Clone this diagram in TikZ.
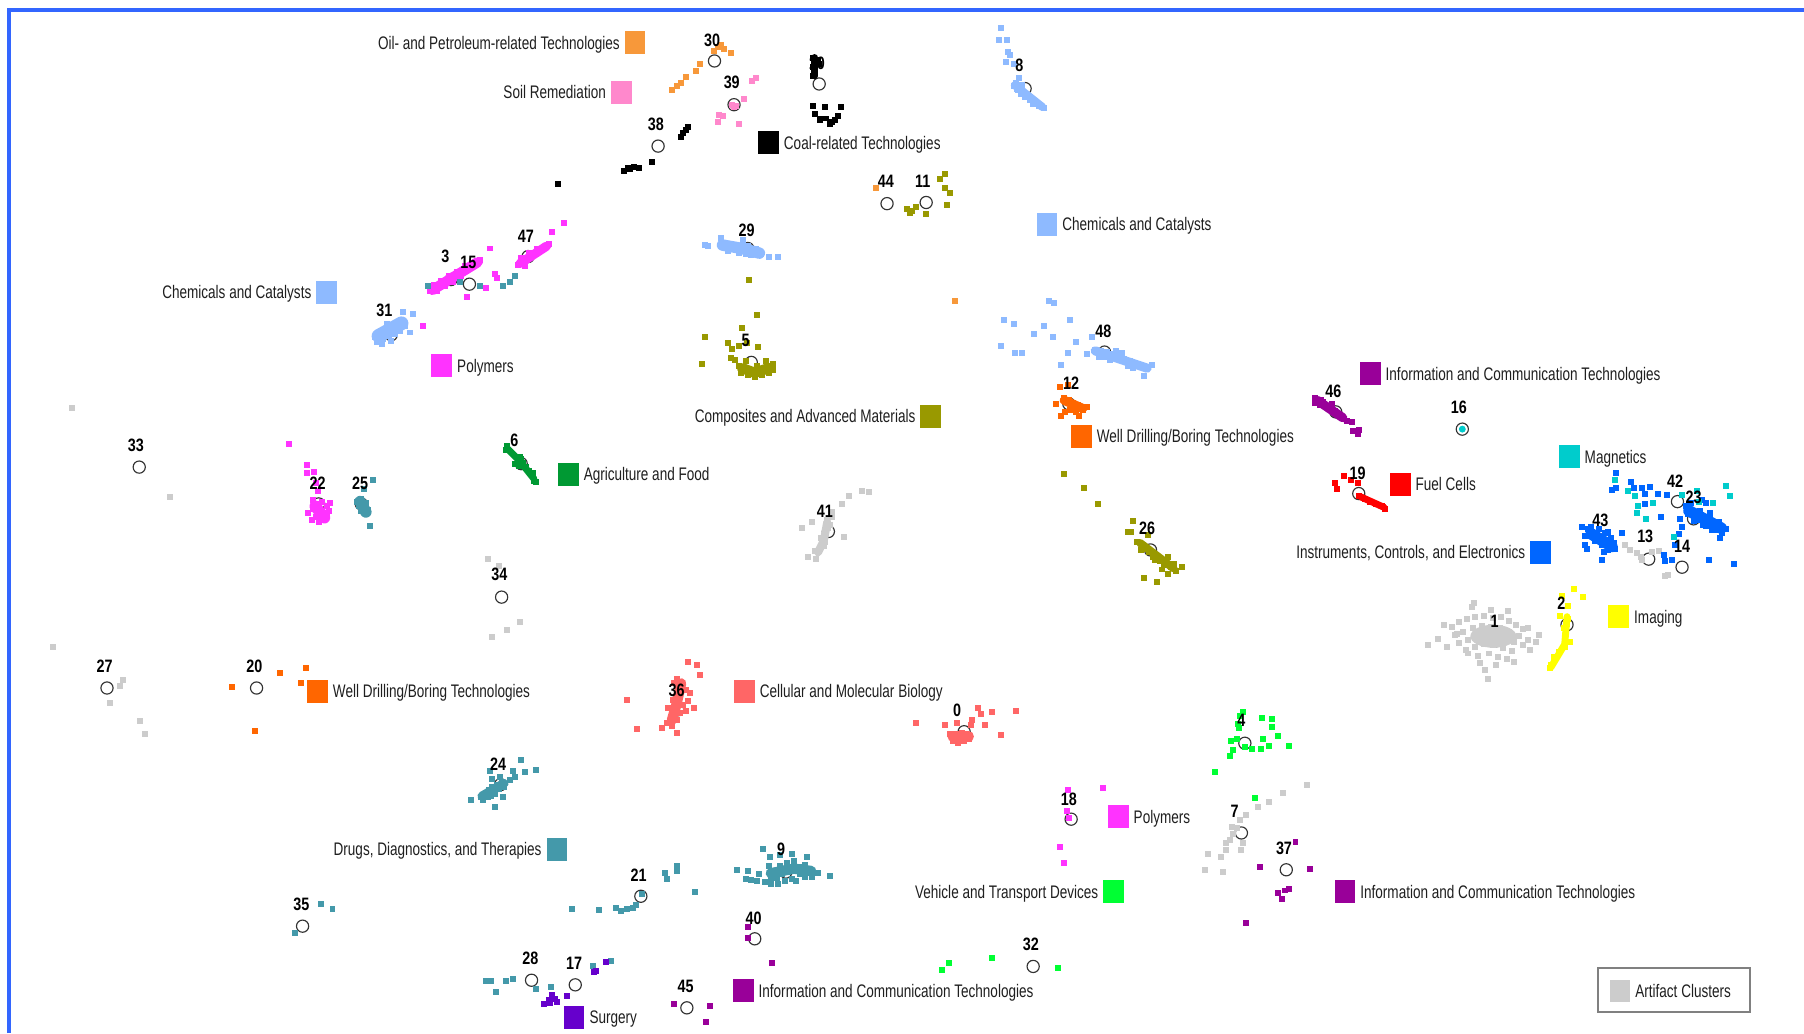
\documentclass[tikz,border=0pt]{standalone}
\usepackage{fontspec}
\newfontfamily\labfont{Liberation Sans}[FakeStretch=0.745]
\newfontfamily\numfont{Liberation Sans}[FakeStretch=0.8]

\definecolor{frame}{RGB}{51,102,255}
\definecolor{oilc}{RGB}{247,152,58}
\definecolor{soilc}{RGB}{255,136,204}
\definecolor{coalc}{RGB}{0,0,0}
\definecolor{chemc}{RGB}{142,186,255}
\definecolor{polyc}{RGB}{255,51,255}
\definecolor{compc}{RGB}{153,153,0}
\definecolor{ictc}{RGB}{153,0,153}
\definecolor{wellc}{RGB}{255,102,0}
\definecolor{magc}{RGB}{0,204,204}
\definecolor{fuelc}{RGB}{255,0,0}
\definecolor{agric}{RGB}{0,153,51}
\definecolor{instc}{RGB}{0,102,255}
\definecolor{imgc}{RGB}{255,255,0}
\definecolor{cellc}{RGB}{255,102,102}
\definecolor{drugc}{RGB}{68,153,170}
\definecolor{vehc}{RGB}{0,255,51}
\definecolor{surgc}{RGB}{102,0,204}
\definecolor{artc}{RGB}{204,204,204}

\tikzset{
  lab/.style={font=\labfont\fontsize{7.9}{9}\selectfont, text=black!88,
    inner sep=0pt, text height=7pt, text depth=1.34pt},
  num/.style={font=\numfont\bfseries\fontsize{7.8}{9}\selectfont, text=black, inner sep=0pt},
  clus/.style={circle, draw=black!80, line width=0.5pt, inner sep=0pt, minimum size=5.3pt},
}

% scatter points: small filled squares
\newcommand\pts[2]{\foreach \x/\y in {#2}{\fill[#1] (\x-2.6,\y-2.6) rectangle (\x+2.6,\y+2.6);}}
% dense core of a cluster: colour, thickness, path
\newcommand\blob[3]{\draw[#1, line width=#2, line cap=round, line join=round] #3;}
% legend keys: swatch top-left corner, text on the right / on the left
\newcommand\keyR[5]{\fill[#2] (#3,#4) rectangle ++(18,20);
  \node[lab, anchor=west] (#1) at (#3+22,#4+10) {#5};}
\newcommand\keyL[5]{\fill[#2] (#3,#4) rectangle ++(18,20);
  \node[lab, anchor=east] (#1) at (#3-4,#4+10) {#5};}

\begin{document}
\begin{tikzpicture}[x=0.5pt,y=-0.5pt]
\useasboundingbox (0,0) rectangle (1568,898);
\fill[white] (0,0) rectangle (1568,898);

% frame
\draw[frame, line width=1.8pt] (8,898) -- (8,9) -- (1568,9);

% cluster centres
\foreach \i/\x/\y in {30/621/53, 39/638/91, 10/712/73, 38/572/127, 8/891/77,
  44/771/177, 11/805/176, 29/650/216, 47/459/223, 3/392/243, 15/408/247,
  31/340/291, 5/653/315, 48/960/306, 12/929/351, 46/1161/358, 16/1271/373,
  33/121/406, 6/453/403, 22/277/438, 25/314/438, 19/1181/429, 42/1458/436,
  23/1472/451, 41/720/462, 26/1000/478, 43/1394/469, 13/1433/486, 14/1462/493,
  34/436/519, 2/1362/543, 1/1300/557, 27/93/598, 20/223/598, 36/589/617,
  0/838/636, 4/1082/646, 24/435/682, 18/931/712, 7/1079/724, 37/1118/756,
  9/683/758, 21/557/779, 35/263/805, 40/656/816, 32/898/840, 28/462/852,
  17/500/856, 45/597/876}
  {\node[clus] (c\i) at (\x,\y) {};}

% Oil- and petroleum-related technologies
\pts{oilc}{627/39,635/46,621/44,624/41,629/43,608/56,605/62,596/67,592/72,588/75,584/78,761/163,830/262}
% soil remediation
\pts{soilc}{654/70,657/68,647/86,625/100,628/101,624/106,642/108,636/91,640/92,638/93}
% coal-related technologies
\blob{coalc}{3pt}{(708,50) -- (708,66)}
\pts{coalc}{707/50,708/54,707/58,708/62,707/66,711/52,712/56,707/92,717/93,731/93,708/99,713/104,718/103,723/106,728/101,721/108,714/103,726/104,598/110,596/113,594/116,592/119,567/141,542/149,546/146,551/145,555/146,548/147,485/160}
% chemicals and catalysts
\blob{chemc}{3.5pt}{(882,74) -- (906,93)}
\pts{chemc}{870/24,868/35,875/35,876/45,878/48,874/54,881/56,886/68,881/75,885/78,888/80,891/84,895/87,898/90,903/92,907/94,883/72,888/74,884/77,887/82}
\blob{chemc}{5pt}{(628,213) -- (645,216) -- (660,220)}
\pts{chemc}{613/213,615/214,627/207,646/209,645/214,630/214,635/216,640/217,645/218,650/219,655/219,660/220,638/213,650/214,657/216,633/218,642/220,648/221,653/222,668/223,676/223}
\blob{chemc}{6pt}{(329,292) -- (349,281)}
\pts{chemc}{350/271,359/273,356/289,348/280,326/293,330/290,334/287,338/285,342/283,346/281,350/279,328/297,333/295,338/292,343/290,348/288,332/299,340/296,336/282,344/286,352/283}
\blob{chemc}{4pt}{(952,305) -- (997,320)}
\pts{chemc}{912/262,916/263,873/278,881/282,899/290,907/283,930/278,915/293,935/297,949/293,870/301,882/307,888/307,928/307,922/317,945/308,955/310,994/327,1001/317,952/304,957/305,962/306,967/308,972/310,977/312,982/314,987/316,992/318,997/320,960/310,970/305,980/318,965/313,975/307,985/320}
% polymers
\blob{polyc}{4.5pt}{(376,252) -- (415,228)}
\blob{polyc}{4pt}{(452,229) -- (475,214)}
\pts{polyc}{374/253,378/250,381/248,385/246,389/243,392/241,396/239,399/236,403/234,407/232,410/230,414/228,417/226,377/248,383/244,390/240,397/236,404/231,380/253,387/249,394/245,401/240,450/230,454/228,458/225,462/222,466/220,470/217,474/215,477/212,453/224,460/220,467/216,456/231,490/194,480/202,426/216,430/238,432/242,422/250,406/258,368/283}
\blob{polyc}{5pt}{(274,440) -- (282,450)}
\pts{polyc}{251/386,267/404,273/410,267/411,275/420,276/427,272/435,268/446,276/438,280/436,284/440,287/437,272/442,278/443,284/446,275/449,281/450,277/454,271/452,286/444,279/447}
\pts{polyc}{928/687,959/685,927/705,929/711,921/736,925/750}
% drugs, diagnostics, and therapies
\pts{drugc}{372/249,400/245,417/249,437/249,443/245,448/240}
\blob{drugc}{5pt}{(313,436) -- (318,445)}
\pts{drugc}{324/417,316/425,310/436,314/434,318/437,312/440,316/441,320/443,314/444,318/447,322/457}
\blob{drugc}{4pt}{(419,692) -- (438,681)}
\pts{drugc}{453/661,466/669,456/671,446/670,426/670,428/677,435/675,443/678,448/675,409/695,430/701,437/693,418/693,422/690,425/687,428/684,432/682,436/680,420/695,424/693,430/690,434/686,438/684,427/692}
\pts{drugc}{279/786,289/790,256/811}
\pts{drugc}{497/790,521/791,535/789,540/792,545/790,550/789,553/787,558/777,578/759,580/764,588/753,588/757,604/775}
\pts{drugc}{422/853,427/853,440/853,446/851,431/862,466/860,479/858,515/840,531/835}
\blob{drugc}{4.5pt}{(670,759) -- (690,755) -- (705,757)}
\pts{drugc}{663/738,669/745,678/743,688/742,701/745,641/756,648/764,653/765,658/766,721/761,711/759,665/767,670/765,675/763,680/760,685/758,690/756,695/754,700/752,705/756,672/757,678/753,684/750,690/748,695/760,700/762,688/764,682/766,676/768,670/768,692/766,706/762,668/753,660/760,650/757}
% surgery
\pts{surgc}{473/873,480/865,484/871,477/869,493/866,516/845,518/844,527/836,478/872,482/868}
% composites and advanced materials
\pts{compc}{821/151,817/156,821/163,826/168,823/178,788/182,793/183,791/185,805/186,796/180}
\blob{compc}{4.5pt}{(645,320) -- (656,324) -- (668,320)}
\pts{compc}{651/243,658/274,645/285,613/293,610/316,633/298,636/303,642/301,649/298,659/302,635/311,639/313,642/318,646/320,650/322,655/324,660/322,664/320,668/318,672/316,644/324,650/326,656/328,662/326,668/324,672/322,658/318,666/314,648/314}
\blob{compc}{3.5pt}{(991,472) -- (1020,494)}
\pts{compc}{925/412,942/424,954/438,985/453,980/462,983/462,988/471,998/465,995/477,1002/484,1008/488,1015/484,1022/496,1027/493,994/502,1006/506,1012/491,1018/493,992/478,999/480,1004/487,1010/495,1015/499,1020/490}
% well drilling/boring technologies
\blob{wellc}{4pt}{(925,348) -- (941,355)}
\pts{wellc}{921/336,928/335,918/351,925/346,929/348,933/350,937/352,941/356,945/354,930/356,926/358,922/362,938/362,935/358}
\pts{wellc}{202/597,243/585,266/581,262/594,222/635}
% artifact clusters
\pts{artc}{63/355,148/432,424/486,434/492,428/554,441/548,452/541,46/562,107/591,104/596,96/611,122/627,126/638}
\blob{artc}{3.5pt}{(719,454) -- (716,470) -- (711,480)}
\pts{artc}{749/427,755/428,738/431,732/438,723/445,723/449,706/454,697/459,721/456,718/464,717/471,734/467,712/478,708/479,702/484,709/486,720/459,716/475,714/468,719/452}
\fill[artc] (1298,553) ellipse [x radius=20, y radius=10];
\pts{artc}{1262/545,1268/541,1275/538,1282/536,1290/535,1298/537,1305/536,1312/540,1318/543,1324/547,1265/552,1272/549,1280/546,1288/544,1296/545,1304/546,1312/549,1320/553,1328/556,1268/559,1276/556,1284/553,1292/552,1300/553,1308/555,1316/558,1324/561,1274/565,1282/562,1290/560,1298/561,1306/563,1314/566,1285/570,1294/568,1302/571,1310/573,1279/528,1296/530,1281/524,1241/561,1255/543,1291/582,1293/590,1311/531,1328/546,1338/552,1330/565,1316/575,1276/568,1266/551,1250/555,1258/562,1335/558,1286/576,1300/578}
\pts{artc}{1412/474,1417/478,1423/481,1427/487,1436/480,1442/479,1447/501,1450/500,1426/484}
\pts{artc}{1136/682,1115/689,1103/697,1093/701,1083/708,1078/713,1071/719,1080/733,1079/739,1066/733,1066/739,1061/745,1050/742,1047/756,1063/758,1075/720,1072/725,1069/730}
% imaging
\blob{imgc}{3pt}{(1362,536) -- (1360,560) -- (1348,580)}
\pts{imgc}{1368/512,1376/519,1358/518,1363/527,1356/535,1362/542,1361/551,1365/558,1360/562,1355/567,1351/571,1348/578,1347/581,1359/546,1363/538}
% instruments, controls, and electronics
\pts{instc}{1405/411,1401/426,1405/424,1420/424,1427/424,1434/423,1430/429,1441/429,1449/430,1418/419,1430/438,1444/449,1460/451,1462/458,1459/464,1456/474,1446/482,1447/488,1453/487,1486/446,1483/437,1479/435,1485/487,1507/490,1495/468,1410/463,1398/462,1392/487,1379/477,1375/458,1378/466,1383/458}
\blob{instc}{5pt}{(1468,444) -- (1496,459)}
\pts{instc}{1465/440,1469/443,1473/446,1477/448,1481/450,1485/453,1489/455,1493/458,1496/460,1467/447,1475/452,1483/457,1491/461,1470/437,1478/444,1486/449,1494/454,1472/453,1480/456,1488/461,1497/463,1500/460}
\blob{instc}{5pt}{(1383,464) -- (1401,475)}
\pts{instc}{1380/460,1384/462,1388/465,1392/468,1396/471,1400/474,1404/477,1386/470,1392/474,1398/478,1382/466,1390/460,1395/463,1400/468,1403/472,1378/474,1394/480}
% magnetics
\pts{magc}{1404/417,1415/427,1421/431,1424/440,1423/446,1431/451,1437/437,1462/430,1475/427,1489/437,1500/422,1504/431,1455/467,1477/436}
\fill[magc] (c16.center) circle (3);
% agriculture and food
\blob{agric}{3pt}{(441,390) -- (452,401) -- (464,416)}
\pts{agric}{441/388,440/391,452/397,448/403,451/405,457/406,460/409,463/411,466/419,464/418,455/402,453/399}
% vehicle and transport devices
\pts{vehc}{1080/619,1076/629,1097/624,1106/625,1106/632,1070/644,1075/642,1082/649,1088/651,1096/651,1098/642,1103/648,1111/640,1120/648,1069/657,1072/652,1056/671,1091/694,1078/622,1077/633,819/843,825/837,862/833,920/841}
% cellular and molecular biology
\blob{cellc}{4.5pt}{(592,594) -- (588,612) -- (584,626)}
\pts{cellc}{598/575,606/578,608/587,588/590,586/594,592/597,596/600,600/602,590/604,585/608,589/611,594/613,598/609,581/615,586/618,591/620,596/618,583/623,588/626,580/628,584/631,603/615,545/608,554/634,575/633,588/637}
\blob{cellc}{4.5pt}{(828,640) -- (842,640)}
\pts{cellc}{796/628,821/630,832/628,850/615,853/621,862/619,883/618,845/626,844/630,856/630,870/639,826/638,830/640,834/642,838/644,842/642,836/637,840/640,828/644,833/646}
% information and communication technologies
\blob{ictc}{4pt}{(1145,348) -- (1167,363)}
\pts{ictc}{1143/346,1148/348,1143/350,1147/352,1152/353,1156/355,1160/357,1163/360,1150/349,1158/351,1168/364,1175/367,1176/375,1181/374,1180/377,1171/366,1165/362}
\pts{ictc}{650/806,650/815,671/837,586/873,617/874,614/888,1126/732,1095/754,1139/755,1111/776,1117/774,1120/773,1114/781,1083/802}
% fuel cells
\blob{fuelc}{3pt}{(1183,432) -- (1203,441)}
\pts{fuelc}{1160/420,1162/425,1168/414,1174/417,1180/420,1181/431,1186/434,1191/436,1196/438,1201/440,1204/442}

% cluster numbers
\foreach \i/\x/\y in {30/619/35, 39/636/72, 10/710/55, 38/570/108, 8/886/57,
  44/770/158, 11/802/158, 29/649/200, 47/457/205, 3/387/223, 15/407/228,
  31/334/270, 5/648/296, 48/959/288, 12/931/333, 46/1159/340, 16/1268/354,
  33/118/387, 6/447/383, 22/276/420, 25/313/420, 19/1180/411, 42/1456/418,
  23/1472/432, 41/717/444, 26/997/459, 43/1391/452, 13/1430/466, 14/1462/475,
  34/434/499, 2/1357/524, 1/1299/540, 27/91/579, 20/221/579, 36/588/600,
  0/832/617, 4/1079/626, 24/433/664, 18/929/695, 7/1073/705, 37/1116/737,
  9/679/738, 21/555/761, 35/262/786, 40/655/798, 32/896/821, 28/461/833,
  17/499/837, 45/596/857}
  {\node[num] (n\i) at (\x,\y) {\i};}

% category keys
\keyL{kOil}{oilc}{543}{27}{Oil- and Petroleum-related Technologies}
\keyL{kSoil}{soilc}{531}{70}{Soil Remediation}
\keyR{kCoal}{coalc}{659}{114}{Coal-related Technologies}
\keyR{kChemA}{chemc}{901}{185}{Chemicals and Catalysts}
\keyL{kChemB}{chemc}{275}{244}{Chemicals and Catalysts}
\keyR{kPolyA}{polyc}{375}{308}{Polymers}
\keyL{kComp}{compc}{800}{352}{Composites and Advanced Materials}
\keyR{kIctA}{ictc}{1182}{315}{Information and Communication Technologies}
\keyR{kWellA}{wellc}{931}{369}{Well Drilling/Boring Technologies}
\keyR{kMag}{magc}{1355}{387}{Magnetics}
\keyR{kFuel}{fuelc}{1208}{411}{Fuel Cells}
\keyR{kAgri}{agric}{485}{402}{Agriculture and Food}
\keyL{kInst}{instc}{1330}{470}{Instruments, Controls, and Electronics}
\keyR{kImg}{imgc}{1398}{526}{Imaging}
\keyR{kWellB}{wellc}{267}{591}{Well Drilling/Boring Technologies}
\keyR{kCell}{cellc}{638}{591}{Cellular and Molecular Biology}
\keyR{kPolyB}{polyc}{963}{700}{Polymers}
\keyL{kDrug}{drugc}{475}{728}{Drugs, Diagnostics, and Therapies}
\keyL{kVeh}{vehc}{959}{765}{Vehicle and Transport Devices}
\keyR{kIctB}{ictc}{1160}{765}{Information and Communication Technologies}
\keyR{kSurg}{surgc}{490}{874}{Surgery}
\keyR{kIctC}{ictc}{637}{851}{Information and Communication Technologies}

% legend box
\draw[black!50, line width=0.9pt] (1389,841) rectangle (1521,880);
\fill[artc] (1399,852) rectangle ++(18,19);
\node[lab, anchor=west] (kArt) at (1421,861.5) {Artifact Clusters};
\end{tikzpicture}
\end{document}
